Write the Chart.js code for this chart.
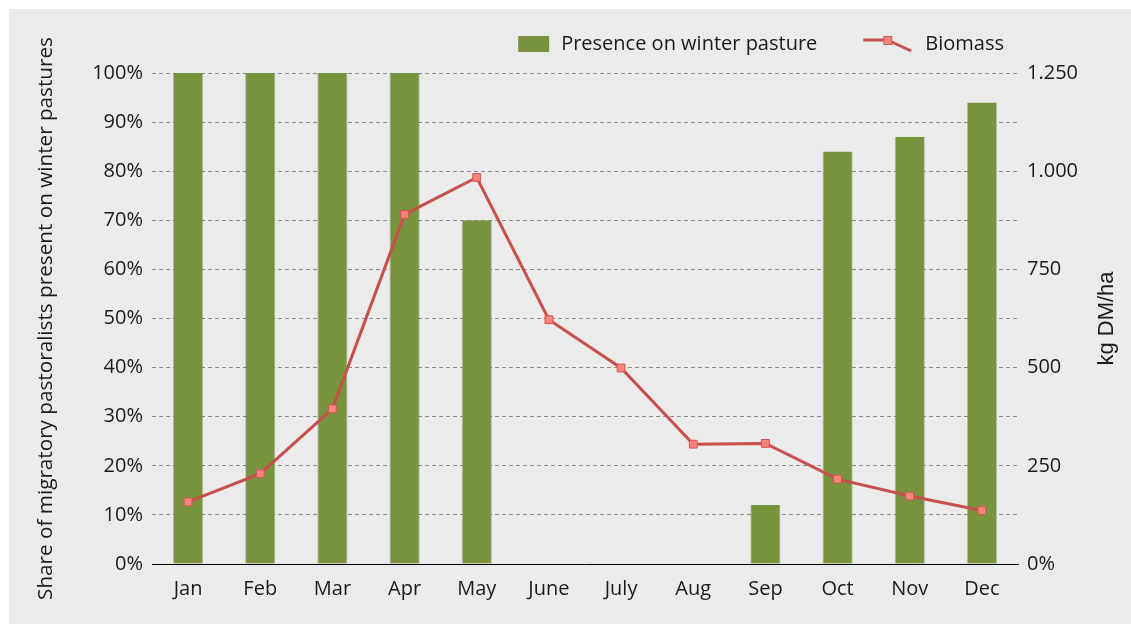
<!DOCTYPE html>
<html>
<head>
<meta charset="utf-8">
<script src="https://cdn.jsdelivr.net/npm/chart.js@4"></script>
<style>
  body { margin: 0; background: #fff; }
  #panel { position: absolute; left: 9px; top: 9px; width: 1122px; height: 615px; background: #ebebeb; }
</style>
</head>
<body>
<div id="panel"><canvas id="myChart"></canvas></div>
<script>
// data
const months = ['Jan', 'Feb', 'Mar', 'Apr', 'May', 'June', 'July', 'Aug', 'Sep', 'Oct', 'Nov', 'Dec'];
const presence = [100, 100, 100, 100, 70, 0, 0, 0, 12, 84, 87, 94];          // % on winter pasture
const biomass = [158, 230, 395, 890, 984, 622, 499, 305, 307, 216, 173, 136]; // kg DM/ha
const pctTicks = [0, 10, 20, 30, 40, 50, 60, 70, 80, 90, 100];
const kgTicks = [0, 250, 500, 750, 1000, 1250];

const green = '#77933c';
const red = '#c8504c';
const font = 'Open Sans';

// legend icons, 80px wide boxes with the mark sitting at the right end
function barIcon() {
    const c = document.createElement('canvas');
    c.width = 80; c.height = 18;
    const g = c.getContext('2d');
    g.fillStyle = green;
    g.fillRect(47, 1, 31, 16);
    return c;
}
function lineIcon() {
    const c = document.createElement('canvas');
    c.width = 80; c.height = 18;
    const g = c.getContext('2d');
    g.strokeStyle = red;
    g.lineWidth = 3;
    g.beginPath();
    g.moveTo(28, 5); g.lineTo(52, 5); g.lineTo(76, 16);
    g.stroke();
    g.fillStyle = '#f4857e';
    g.strokeStyle = '#d9534f';
    g.lineWidth = 1;
    g.fillRect(48, 1, 9, 9);
    g.strokeRect(48.5, 1.5, 8, 8);
    return c;
}
const icons = [barIcon(), lineIcon()];

function kgLabel(v) {
    if (v === 0) return '0%';
    if (v >= 1000) return Math.floor(v / 1000) + '.' + String(v % 1000).padStart(3, '0');
    return String(v);
}

// move the legend to where the original has it
const legendSpot = {
    id: 'legendSpot',
    afterLayout(chart) {
        const lg = chart.legend;
        const dx = chart.chartArea.right + 4 - lg.right;
        lg.left += dx; lg.right += dx;
        lg.top -= 9; lg.bottom -= 9;
    }
};

// right axis title reads bottom to top
const rightTitle = {
    id: 'rightTitle',
    afterDraw(chart) {
        const ctx = chart.ctx;
        const a = chart.chartArea;
        ctx.save();
        ctx.translate(1098, (a.top + a.bottom) / 2);
        ctx.rotate(-Math.PI / 2);
        ctx.font = '22px "Liberation Sans", Arial, sans-serif';
        ctx.fillStyle = '#1a1a1a';
        ctx.textAlign = 'center';
        ctx.textBaseline = 'middle';
        ctx.fillText('kg DM/ha', 0, 0);
        ctx.restore();
    }
};

const ctx = document.getElementById('myChart').getContext('2d');
const myChart = new Chart(ctx, {
    data: {
        labels: months,
        datasets: [{
            type: 'bar',
            label: 'Presence on winter pasture',
            data: presence,
            yAxisID: 'y',
            backgroundColor: green,
            borderColor: 'rgba(90,100,70,0.35)',
            borderWidth: { left: 1, right: 1, top: 0, bottom: 0 },
            categoryPercentage: 1,
            barPercentage: 0.42,
            order: 1
        }, {
            type: 'line',
            label: 'Biomass',
            data: biomass,
            yAxisID: 'y1',
            borderColor: red,
            borderWidth: 3,
            pointStyle: 'rect',
            pointRadius: 5.5,
            pointBackgroundColor: '#f4857e',
            pointBorderColor: '#d9534f',
            pointBorderWidth: 1,
            tension: 0,
            order: 0
        }]
    },
    options: {
        responsive: true,
        maintainAspectRatio: false,
        animation: false,
        layout: { padding: { top: 16, right: 38, left: 0, bottom: 0 } },
        plugins: {
            tooltip: { enabled: false },
            legend: {
                position: 'top',
                align: 'end',
                labels: {
                    usePointStyle: true,
                    pointStyleWidth: 80,
                    boxHeight: 18,
                    padding: 18,
                    color: '#1a1a1a',
                    font: { family: font, size: 20 },
                    generateLabels: function (chart) {
                        const items = Chart.defaults.plugins.legend.labels.generateLabels(chart);
                        items.forEach(it => { it.pointStyle = icons[it.datasetIndex]; });
                        items.sort((a, b) => a.datasetIndex - b.datasetIndex);
                        return items;
                    }
                }
            }
        },
        scales: {
            x: {
                grid: { display: true, color: 'transparent', drawTicks: false },
                border: { display: true, color: '#000', width: 1 },
                ticks: { color: '#1a1a1a', font: { family: font, size: 20 }, padding: 13 },
                afterFit: function (scale) { scale.height = 60; }
            },
            y: {
                position: 'left',
                min: 0,
                max: 100,
                afterBuildTicks: function (scale) { scale.ticks = pctTicks.map(v => ({ value: v })); },
                ticks: {
                    color: '#1a1a1a',
                    font: { family: font, size: 20 },
                    padding: 9,
                    callback: v => v + '%'
                },
                grid: { color: '#8a8a8a', lineWidth: 1, drawTicks: false },
                border: { display: false, dash: [4, 3] },
                title: {
                    display: true,
                    text: 'Share of migratory pastoralists present on winter pastures',
                    color: '#1a1a1a',
                    font: { family: font, size: 20.7 },
                    padding: { top: 25, bottom: 0 }
                },
                afterFit: function (scale) { scale.width = 143; }
            },
            y1: {
                position: 'right',
                min: 0,
                max: 1250,
                afterBuildTicks: function (scale) { scale.ticks = kgTicks.map(v => ({ value: v })); },
                ticks: {
                    color: '#1a1a1a',
                    font: { family: font, size: 20 },
                    padding: 9,
                    callback: kgLabel
                },
                grid: { display: false, drawTicks: false },
                border: { display: false },
                afterFit: function (scale) { scale.width = 75; }
            }
        }
    },
    plugins: [legendSpot, rightTitle]
});
</script>
</body>
</html>
